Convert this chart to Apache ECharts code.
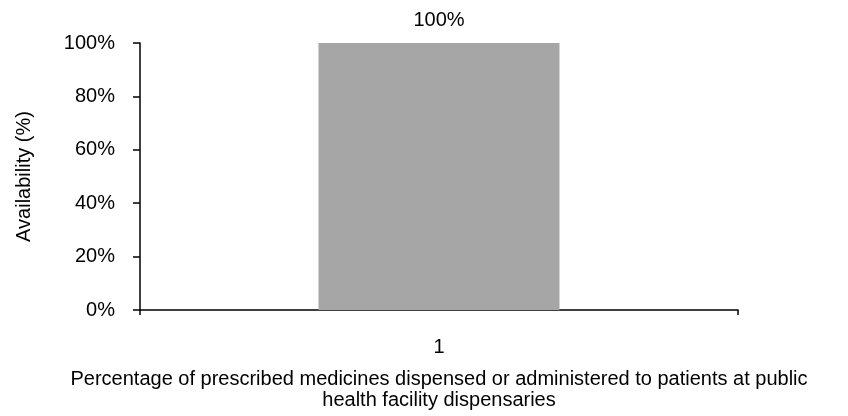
<!DOCTYPE html>
<html>
<head>
<meta charset="utf-8">
<script src="https://cdn.jsdelivr.net/npm/echarts@6/dist/echarts.min.js"></script>
<style>
html,body{margin:0;padding:0;background:#fff;}
#chart{width:848px;height:416px;}
</style>
</head>
<body>
<div id="chart"></div>
<script>
var categories = ['1'];
var values = [100];
var yTicks = [0, 20, 40, 60, 80, 100];
var xName = 'Percentage of prescribed medicines dispensed or administered to patients at public\nhealth facility dispensaries';
var yName = 'Availability (%)';

var chart = echarts.init(document.getElementById('chart'), null, {renderer: 'canvas'});
var font = 'Liberation Sans, Arial, sans-serif';
chart.setOption({
  animation: false,
  backgroundColor: '#fff',
  grid: {left: 140, right: 110, top: 43, bottom: 103},
  xAxis: {
    type: 'category',
    data: categories,
    name: xName,
    nameLocation: 'middle',
    nameGap: 59,
    nameTextStyle: {fontFamily: font, fontSize: 20, color: '#000', lineHeight: 21},
    axisLine: {lineStyle: {color: '#000', width: 1.5}},
    axisTick: {show: true, length: 5, lineStyle: {color: '#000', width: 1.5}},
    axisLabel: {fontFamily: font, fontSize: 20, color: '#000', margin: 27}
  },
  yAxis: {
    type: 'value',
    min: yTicks[0],
    max: yTicks[yTicks.length - 1],
    interval: 20,
    name: yName,
    nameLocation: 'middle',
    nameGap: 106,
    nameTextStyle: {fontFamily: font, fontSize: 20, color: '#000'},
    axisLine: {show: true, lineStyle: {color: '#000', width: 1.5}},
    axisTick: {show: true, length: 7, lineStyle: {color: '#000', width: 1.5}},
    splitLine: {show: false},
    axisLabel: {fontFamily: font, fontSize: 20, color: '#000', margin: 25, formatter: '{value}%'}
  },
  series: [{
    type: 'bar',
    data: values,
    barWidth: '40.3%',
    itemStyle: {color: '#a6a6a6'},
    label: {
      show: true,
      position: 'top',
      distance: 13,
      fontFamily: font,
      fontSize: 20,
      color: '#000',
      formatter: '{c}%'
    }
  }]
});
</script>
</body>
</html>
